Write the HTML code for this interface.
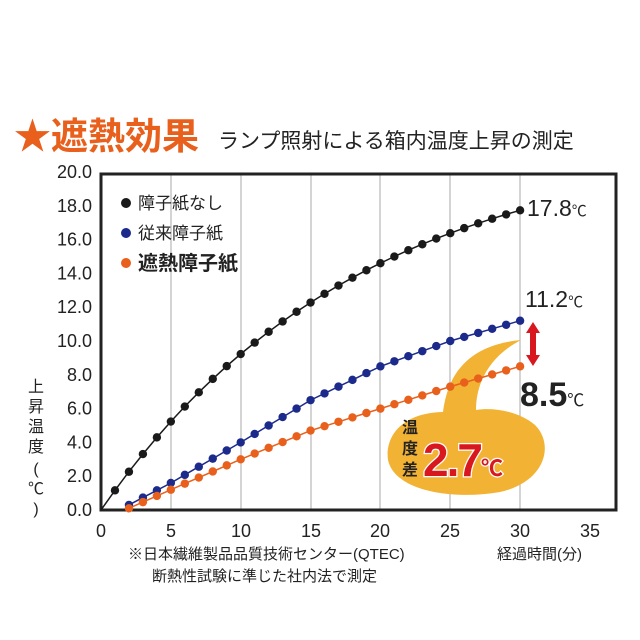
<!DOCTYPE html>
<html><head><meta charset="utf-8"><style>
html,body{margin:0;padding:0;background:#fff;}
svg{display:block;font-family:"Liberation Sans","Noto Sans CJK JP",sans-serif;}
</style></head><body>
<svg id="s" width="640" height="640" viewBox="0 0 640 640" xmlns="http://www.w3.org/2000/svg">
<text x="14" y="149" font-size="37" font-weight="bold" fill="#e8601c">★遮熱効果</text>
<text x="218" y="148" font-size="21" fill="#222">ランプ照射による箱内温度上昇の測定</text>
<g stroke="#aaa" stroke-width="1">
<line x1="171" y1="174" x2="171" y2="510"/><line x1="241" y1="174" x2="241" y2="510"/>
<line x1="311" y1="174" x2="311" y2="510"/><line x1="380" y1="174" x2="380" y2="510"/>
<line x1="450" y1="174" x2="450" y2="510"/><line x1="520" y1="174" x2="520" y2="510"/>
</g>
<rect x="101" y="174" width="515" height="336" fill="none" stroke="#222" stroke-width="3"/>
<g font-size="18" fill="#222" text-anchor="end" id="yl"></g>
<g font-size="18" fill="#222" text-anchor="middle">
<text x="101" y="537">0</text><text x="171" y="537">5</text><text x="241" y="537">10</text><text x="311" y="537">15</text><text x="380" y="537">20</text><text x="450" y="537">25</text><text x="520" y="537">30</text><text x="590" y="537">35</text>
</g>
<g font-size="16" fill="#222" text-anchor="middle">
<text x="36" y="392">上</text><text x="36" y="412">昇</text><text x="36" y="432">温</text><text x="36" y="452">度</text><text x="36" y="474">(</text><text x="36" y="494">℃</text><text x="36" y="514">)</text>
</g>
<text x="128" y="559" font-size="15" fill="#222">※日本繊維製品品質技術センター(QTEC)</text>
<text x="152" y="581" font-size="15" fill="#222">断熱性試験に準じた社内法で測定</text>
<text x="497" y="559" font-size="15" fill="#222">経過時間(分)</text>
<path d="M521,340 C470,345 448,372 443,412 C400,413 385,438 388,460 C395,492 455,500 500,492 C545,482 555,445 535,425 C520,412 495,407 476,410 C476,380 492,355 521,340 Z" fill="#f2b233"/>
<g id="series"></g>
<circle cx="126" cy="203" r="5" fill="#1a1a1a"/><text x="138" y="209" font-size="17" fill="#222">障子紙なし</text>
<circle cx="126" cy="233" r="5" fill="#1c2a8c"/><text x="138" y="239" font-size="17" fill="#222">従来障子紙</text>
<circle cx="126" cy="263" r="5" fill="#e8601c"/><text x="138" y="270" font-size="20" font-weight="bold" fill="#222">遮熱障子紙</text>
<text x="527" y="216" font-size="23" fill="#222">17.8<tspan font-size="15">℃</tspan></text>
<text x="525" y="307" font-size="23" fill="#222">11.2<tspan font-size="15">℃</tspan></text>
<text x="520" y="406" font-size="34" font-weight="bold" fill="#222">8.5<tspan font-size="17" font-weight="normal">℃</tspan></text>
<path d="M533,322 l-7,11 h4 v22 h-4 l7,11 l7,-11 h-4 v-22 h4 z" fill="#d8171e"/>
<g font-size="16" font-weight="bold" fill="#222" text-anchor="middle"><text x="410" y="433">温</text><text x="410" y="454">度</text><text x="410" y="475">差</text></g>
<text x="423" y="476" font-size="46" font-weight="bold" fill="#d8171e" stroke="#fff" stroke-width="2.5" paint-order="stroke" letter-spacing="-2">2.7<tspan font-size="22" letter-spacing="0">℃</tspan></text>
</svg>
<script>
var X=t=>101+t*13.97,Y=v=>510-v*16.9,ns="http://www.w3.org/2000/svg";
var yl=document.getElementById('yl');
for(var i=0;i<=10;i++){var t=document.createElementNS(ns,'text');t.setAttribute('x',92);t.setAttribute('y',Y(i*2)+6);t.textContent=(i*2).toFixed(1);yl.appendChild(t);}
function interp(p,t){for(var i=0;i<p.length-1;i++){if(t<=p[i+1][0]){var a=p[i],b=p[i+1];return a[1]+(b[1]-a[1])*(t-a[0])/(b[0]-a[0]);}}return p[p.length-1][1];}
var g=document.getElementById('series');
function draw(ts,f,col,start){var d=start||'';ts.forEach((t,i)=>{d+=(i||start?'L':'M')+X(t).toFixed(1)+','+Y(f(t)).toFixed(1);});
var p=document.createElementNS(ns,'path');p.setAttribute('d',d);p.setAttribute('stroke',col);p.setAttribute('stroke-width',1.5);p.setAttribute('fill','none');g.appendChild(p);
ts.forEach(t=>{var c=document.createElementNS(ns,'circle');c.setAttribute('cx',X(t));c.setAttribute('cy',Y(f(t)));c.setAttribute('r',4.2);c.setAttribute('fill',col);g.appendChild(c);});}
var tb=[],tc=[];for(var t=1;t<=30;t++)tb.push(t);for(var t=2;t<=30;t++)tc.push(t);
draw(tb,t=>22.1*(1-Math.exp(-t/18.5)),'#1a1a1a','M'+X(0)+','+Y(0));
var blue=[[2,0.3],[5,1.6],[10,4.0],[15,6.5],[20,8.5],[25,10.0],[30,11.2]];
var org=[[2,0.1],[5,1.2],[10,3.0],[15,4.7],[20,6.0],[25,7.3],[30,8.5]];
draw(tc,t=>interp(blue,t),'#1c2a8c');
draw(tc,t=>interp(org,t),'#e8601c');
</script>
</body></html>
